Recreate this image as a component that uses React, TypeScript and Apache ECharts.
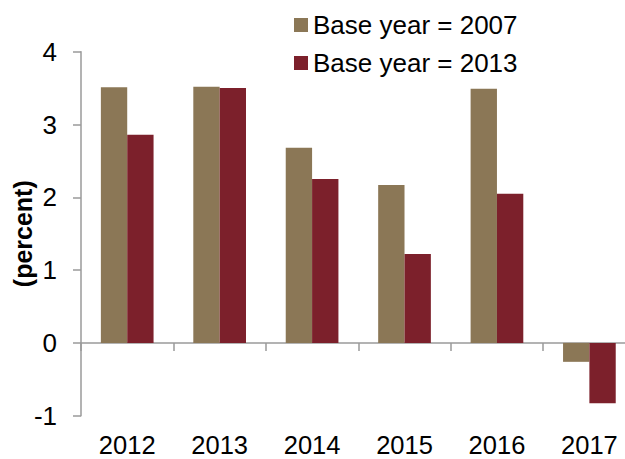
import React, { useEffect, useRef } from "react";
import * as echarts from "echarts";

const categories = ["2012", "2013", "2014", "2015", "2016", "2017"];
const base2007 = [3.51, 3.52, 2.68, 2.17, 3.49, -0.26];
const base2013 = [2.86, 3.5, 2.25, 1.22, 2.05, -0.83];
const seriesNames = ["Base year = 2007", "Base year = 2013"];
const colors = ["#8B7756", "#7C202B"];

const FONT = "Liberation Sans, Arial, sans-serif";
const AXIS_COLOR = "#9a9a9a";

export default function App() {
  const ref = useRef<HTMLDivElement>(null);
  useEffect(() => {
    if (!ref.current) return;
    const chart = echarts.init(ref.current, undefined, { renderer: "svg" });
    chart.setOption({
      animation: false,
      backgroundColor: "#ffffff",
      textStyle: { fontFamily: FONT },
      legend: [
        {
          data: [seriesNames[0]],
          left: 289,
          top: 5,
          itemWidth: 14,
          itemHeight: 14,
          icon: "rect",
          textStyle: { fontSize: 26, color: "#000", fontFamily: FONT, lineHeight: 30 },
        },
        {
          data: [seriesNames[1]],
          left: 289,
          top: 43,
          itemWidth: 14,
          itemHeight: 14,
          icon: "rect",
          textStyle: { fontSize: 26, color: "#000", fontFamily: FONT, lineHeight: 30 },
        },
      ],
      grid: {
        left: 81,
        top: 51.7,
        height: 364,
        width: 554.6,
        containLabel: false,
        outerBoundsMode: "none",
      },
      xAxis: [
        {
          type: "category",
          data: categories,
          boundaryGap: true,
          axisLine: { onZero: true, lineStyle: { color: AXIS_COLOR, width: 1.5 } },
          axisTick: { show: true, length: 8, lineStyle: { color: AXIS_COLOR, width: 1.5 } },
          axisLabel: { show: false },
          splitLine: { show: false },
        },
        {
          type: "category",
          data: categories,
          position: "bottom",
          axisLine: { show: false, onZero: false },
          axisTick: { show: false },
          axisLabel: {
            show: true,
            fontSize: 25.5,
            lineHeight: 22,
            color: "#000",
            fontFamily: FONT,
            margin: 18,
          },
          splitLine: { show: false },
        },
      ],
      yAxis: {
        type: "value",
        min: -1,
        max: 4,
        interval: 1,
        name: "(percent)",
        nameLocation: "middle",
        nameRotate: 90,
        nameGap: 46,
        nameMoveOverlap: false,
        nameTextStyle: { fontSize: 25, fontWeight: "bold", color: "#000", fontFamily: FONT },
        axisLine: { show: true, lineStyle: { color: AXIS_COLOR, width: 1.5 } },
        axisTick: { show: true, length: 8, lineStyle: { color: AXIS_COLOR, width: 1.5 } },
        axisLabel: { fontSize: 26, color: "#000", fontFamily: FONT, margin: 24 },
        splitLine: { show: false },
      },
      series: [
        {
          name: seriesNames[0],
          type: "bar",
          data: base2007,
          xAxisIndex: 0,
          barWidth: "28.5%",
          barGap: "0%",
          itemStyle: { color: colors[0] },
        },
        {
          name: seriesNames[1],
          type: "bar",
          data: base2013,
          xAxisIndex: 0,
          barWidth: "28.5%",
          barGap: "0%",
          itemStyle: { color: colors[1] },
        },
      ],
    });
    return () => chart.dispose();
  }, []);
  return (
    <div
      ref={ref}
      style={{ position: "fixed", left: 0, top: 0, width: 625, height: 459 }}
    />
  );
}
